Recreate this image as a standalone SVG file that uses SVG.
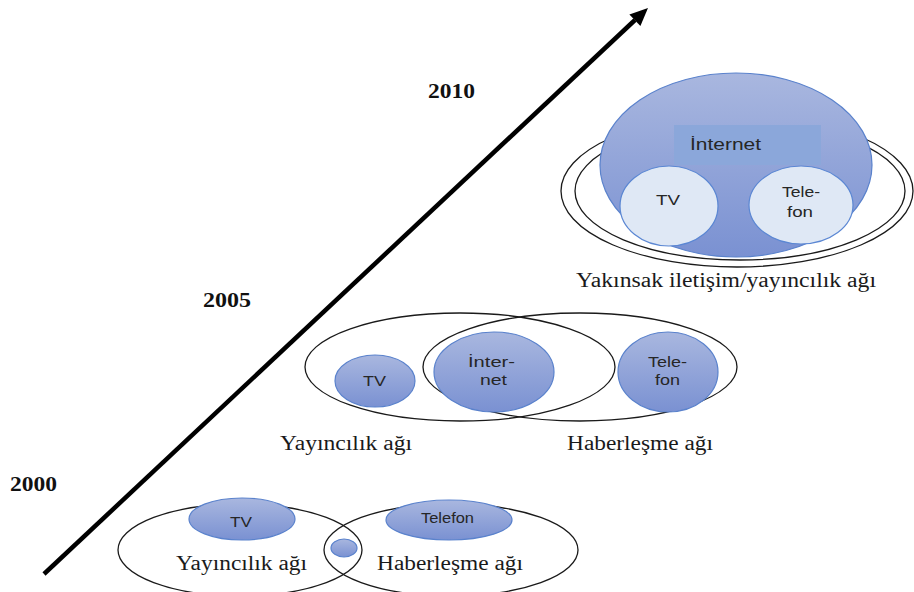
<svg xmlns="http://www.w3.org/2000/svg" width="914" height="592" viewBox="0 0 914 592">
  <defs>
    <linearGradient id="blueGrad" x1="0" y1="0" x2="0" y2="1">
      <stop offset="0" stop-color="#a9b7df"/>
      <stop offset="1" stop-color="#7a91d2"/>
    </linearGradient>
    <style>
      .ring { fill: none; stroke: #1a1a1a; stroke-width: 1.3; }
      .blue { fill: url(#blueGrad); stroke: #5a82cc; stroke-width: 1.2; }
      .light { fill: #dfe8f5; stroke: #5b87d3; stroke-width: 1.2; }
      .node { font-family: "Liberation Sans", Arial, sans-serif; font-size: 14px; fill: #262626; }
      .lbl { font-family: "Liberation Serif", "Times New Roman", serif; font-size: 20px; fill: #1a1a1a; }
      .year { font-family: "Liberation Serif", "Times New Roman", serif; font-size: 20px; font-weight: bold; fill: #111; }
    </style>
  </defs>
  <rect width="914" height="592" fill="#ffffff"/>

  <g id="connectors">
    <line x1="44" y1="574" x2="635" y2="20" stroke="#000" stroke-width="4.5"/>
    <polygon points="648,8 629.4,14.5 640.4,26.1" fill="#000"/>
  </g>

  <g id="years">
    <text class="year" x="10" y="491" textLength="47" lengthAdjust="spacingAndGlyphs">2000</text>
    <text class="year" x="203" y="307" textLength="48" lengthAdjust="spacingAndGlyphs">2005</text>
    <text class="year" x="428" y="98" textLength="47" lengthAdjust="spacingAndGlyphs">2010</text>
  </g>

  <!-- 2000 -->
  <g id="yayincilik-2000">
    <ellipse class="ring" cx="240" cy="550" rx="122" ry="46"/>
    <text class="lbl" x="176" y="570" textLength="131" lengthAdjust="spacingAndGlyphs">Yayıncılık ağı</text>
  </g>
  <g id="haberlesme-2000">
    <ellipse class="ring" cx="451" cy="550" rx="127" ry="46"/>
    <text class="lbl" x="377" y="570" textLength="146" lengthAdjust="spacingAndGlyphs">Haberleşme ağı</text>
  </g>
  <g id="tv-2000">
    <ellipse class="blue" cx="242" cy="519" rx="53" ry="21"/>
    <text class="node" x="230" y="527" textLength="22" lengthAdjust="spacingAndGlyphs">TV</text>
  </g>
  <g id="telefon-2000">
    <ellipse class="blue" cx="449" cy="520" rx="63" ry="20"/>
    <text class="node" x="421" y="523" textLength="53" lengthAdjust="spacingAndGlyphs">Telefon</text>
  </g>
  <g id="ortak-2000">
    <ellipse class="blue" cx="344" cy="548" rx="13" ry="9"/>
  </g>

  <!-- 2005 -->
  <g id="yayincilik-2005">
    <ellipse class="ring" cx="460" cy="367" rx="155" ry="54"/>
    <text class="lbl" x="280" y="450" textLength="132" lengthAdjust="spacingAndGlyphs">Yayıncılık ağı</text>
  </g>
  <g id="haberlesme-2005">
    <ellipse class="ring" cx="580" cy="367" rx="157" ry="54"/>
    <text class="lbl" x="567" y="450" textLength="146" lengthAdjust="spacingAndGlyphs">Haberleşme ağı</text>
  </g>
  <g id="tv-2005">
    <ellipse class="blue" cx="375" cy="381" rx="40" ry="26"/>
    <text class="node" x="363" y="386" textLength="23" lengthAdjust="spacingAndGlyphs">TV</text>
  </g>
  <g id="internet-2005">
    <ellipse class="blue" cx="494" cy="372" rx="60" ry="40"/>
    <text class="node" x="468" y="367" textLength="47" lengthAdjust="spacingAndGlyphs">İnter-</text>
    <text class="node" x="480" y="385" textLength="27" lengthAdjust="spacingAndGlyphs">net</text>
  </g>
  <g id="telefon-2005">
    <ellipse class="blue" cx="668" cy="372" rx="50" ry="40"/>
    <text class="node" x="648" y="367" textLength="39" lengthAdjust="spacingAndGlyphs">Tele-</text>
    <text class="node" x="655" y="385" textLength="25" lengthAdjust="spacingAndGlyphs">fon</text>
  </g>

  <!-- 2010 -->
  <g id="yakinsak-2010">
    <ellipse class="ring" cx="737" cy="191" rx="176" ry="76"/>
    <ellipse class="ring" cx="740" cy="191" rx="165" ry="69"/>
    <text class="lbl" x="576" y="287" textLength="300" lengthAdjust="spacingAndGlyphs">Yakınsak iletişim/yayıncılık ağı</text>
  </g>
  <g id="internet-2010">
    <ellipse class="blue" cx="736" cy="165" rx="136" ry="92"/>
    <rect x="674" y="125" width="147" height="40" fill="#8ba7da"/>
    <text class="node" x="690" y="150" style="font-size:16px" textLength="71" lengthAdjust="spacingAndGlyphs">İnternet</text>
  </g>
  <g id="tv-2010">
    <ellipse class="light" cx="669" cy="206" rx="49" ry="40"/>
    <text class="node" x="656" y="205" textLength="24" lengthAdjust="spacingAndGlyphs">TV</text>
  </g>
  <g id="telefon-2010">
    <ellipse class="light" cx="801" cy="205" rx="52" ry="39"/>
    <text class="node" x="782" y="197" textLength="38" lengthAdjust="spacingAndGlyphs">Tele-</text>
    <text class="node" x="787" y="217" textLength="26" lengthAdjust="spacingAndGlyphs">fon</text>
  </g>
</svg>
